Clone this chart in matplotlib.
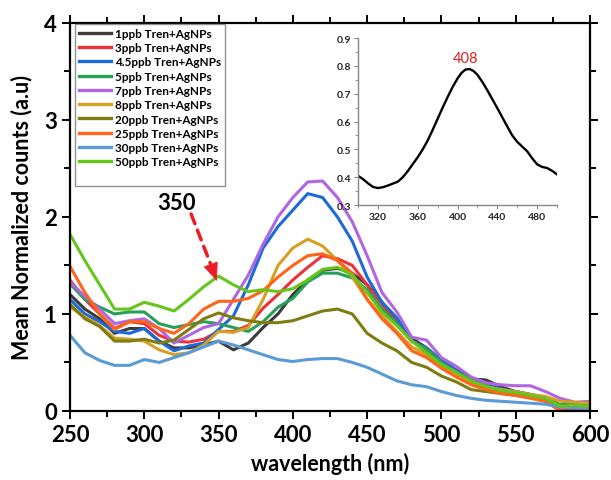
import matplotlib
matplotlib.use("Agg")
import matplotlib.pyplot as plt
from matplotlib.ticker import MultipleLocator
from matplotlib.lines import Line2D

plt.rcParams['font.family'] = ['Lato', 'DejaVu Sans']

wavelength = list(range(250, 601, 10))

labels = ["1ppb Tren+AgNPs", "3ppb Tren+AgNPs", "4.5ppb Tren+AgNPs", "5ppb Tren+AgNPs",
          "7ppb Tren+AgNPs", "8ppb Tren+AgNPs", "20ppb Tren+AgNPs", "25ppb Tren+AgNPs",
          "30ppb Tren+AgNPs", "50ppb Tren+AgNPs"]

colors = ["#3c3c3c", "#ec3238", "#1c6ad8", "#27a05a", "#b066e0", "#d6a024",
          "#7d7d12", "#ff6418", "#5b9bd5", "#66c51a"]

ppb1 = [1.2, 1.05, 0.95, 0.8, 0.85, 0.85, 0.72, 0.65, 0.65, 0.68, 0.72, 0.63, 0.70, 0.86, 1.0, 1.2,
        1.35, 1.45, 1.47, 1.42, 1.3, 1.12, 0.95, 0.75, 0.65, 0.52, 0.42, 0.33, 0.32, 0.25, 0.2,
        0.17, 0.14, 0.06, 0.06, 0.04]
ppb3 = [1.35, 1.15, 1.0, 0.85, 0.92, 0.9, 0.78, 0.72, 0.71, 0.74, 0.82, 0.82, 0.88, 1.06, 1.2, 1.35,
        1.48, 1.6, 1.57, 1.5, 1.3, 1.1, 0.9, 0.72, 0.62, 0.48, 0.38, 0.29, 0.24, 0.2, 0.18,
        0.14, 0.1, 0.01, 0.02, 0.03]
ppb4_5 = [1.15, 1.0, 0.92, 0.82, 0.8, 0.85, 0.72, 0.62, 0.67, 0.7, 0.84, 0.98, 1.3, 1.68, 1.9, 2.07,
          2.24, 2.2, 2.0, 1.75, 1.38, 1.12, 0.96, 0.72, 0.65, 0.52, 0.42, 0.32, 0.27, 0.23, 0.2,
          0.17, 0.13, 0.06, 0.08, 0.06]
ppb5 = [1.31, 1.15, 1.07, 1.0, 1.02, 1.02, 0.9, 0.86, 0.89, 0.92, 0.9, 0.86, 0.82, 0.92, 1.07, 1.16,
        1.33, 1.42, 1.42, 1.37, 1.25, 1.05, 0.9, 0.72, 0.64, 0.5, 0.4, 0.32, 0.26, 0.21, 0.19,
        0.16, 0.14, 0.06, 0.07, 0.05]
ppb7 = [1.33, 1.18, 1.05, 0.9, 0.93, 0.95, 0.85, 0.7, 0.78, 0.86, 0.9, 1.15, 1.4, 1.72, 2.0, 2.2,
        2.36, 2.37, 2.2, 1.95, 1.6, 1.22, 1.02, 0.76, 0.73, 0.55, 0.46, 0.35, 0.29, 0.27, 0.26,
        0.26, 0.2, 0.13, 0.09, 0.1]
ppb8 = [1.07, 0.97, 0.88, 0.75, 0.74, 0.72, 0.63, 0.58, 0.6, 0.68, 0.82, 0.81, 0.86, 1.15, 1.5, 1.68,
        1.77, 1.7, 1.55, 1.38, 1.15, 0.98, 0.82, 0.66, 0.58, 0.47, 0.38, 0.3, 0.25, 0.22, 0.2,
        0.17, 0.15, 0.1, 0.09, 0.08]
ppb20 = [1.1, 0.95, 0.87, 0.72, 0.72, 0.74, 0.7, 0.73, 0.84, 0.95, 1.01, 0.96, 0.93, 0.91, 0.91, 0.93,
         0.98, 1.03, 1.05, 1.0, 0.8, 0.7, 0.62, 0.5, 0.45, 0.36, 0.3, 0.22, 0.2, 0.18, 0.16,
         0.14, 0.12, 0.05, 0.06, 0.05]
ppb25 = [1.49, 1.22, 1.0, 0.84, 0.92, 0.92, 0.85, 0.8, 0.9, 1.05, 1.13, 1.13, 1.16, 1.24, 1.38, 1.5,
         1.6, 1.62, 1.55, 1.42, 1.15, 0.95, 0.8, 0.62, 0.55, 0.44, 0.35, 0.27, 0.22, 0.18, 0.16,
         0.13, 0.1, 0.0, 0.0, 0.02]
ppb30 = [0.78, 0.6, 0.52, 0.47, 0.47, 0.53, 0.5, 0.55, 0.6, 0.66, 0.72, 0.68, 0.63, 0.58, 0.53, 0.51,
         0.53, 0.54, 0.54, 0.5, 0.45, 0.38, 0.31, 0.27, 0.25, 0.2, 0.16, 0.13, 0.11, 0.1, 0.09,
         0.08, 0.07, 0.04, 0.03, 0.03]
ppb50 = [1.82, 1.55, 1.3, 1.05, 1.05, 1.12, 1.08, 1.03, 1.15, 1.28, 1.39, 1.3, 1.23, 1.25, 1.23, 1.26,
         1.35, 1.46, 1.48, 1.4, 1.22, 1.02, 0.88, 0.72, 0.6, 0.48, 0.4, 0.31, 0.25, 0.21, 0.19,
         0.16, 0.13, 0.05, 0.06, 0.05]

series = [ppb1, ppb3, ppb4_5, ppb5, ppb7, ppb8, ppb20, ppb25, ppb30, ppb50]

inset_wl = [300, 305, 310, 315, 320, 325, 330, 335, 340, 345, 350, 355, 360, 365, 370, 375, 380,
            385, 390, 395, 400, 404, 408, 412, 416, 420, 425, 430, 435, 440, 445, 450, 455, 460,
            465, 470, 475, 480, 485, 490, 495, 500]
inset_val = [0.405, 0.393, 0.378, 0.365, 0.361, 0.364, 0.37, 0.377, 0.384, 0.4, 0.422, 0.447,
             0.472, 0.5, 0.532, 0.57, 0.61, 0.65, 0.688, 0.724, 0.755, 0.775, 0.787, 0.789, 0.782,
             0.768, 0.742, 0.712, 0.68, 0.648, 0.615, 0.582, 0.55, 0.527, 0.51, 0.493, 0.468,
             0.446, 0.437, 0.433, 0.423, 0.41]

fig = plt.figure(figsize=(6.11, 4.81), dpi=100)
ax = fig.add_axes([0.1146, 0.1435, 0.851, 0.807])

for vals, lab, c in zip(series, labels, colors):
    ax.plot(wavelength, vals, color=c, lw=2.2, label=lab)

ax.set_xlim(250, 600)
ax.set_ylim(0, 4)
ax.xaxis.set_major_locator(MultipleLocator(50))
ax.xaxis.set_minor_locator(MultipleLocator(25))
ax.yaxis.set_major_locator(MultipleLocator(1))
ax.yaxis.set_minor_locator(MultipleLocator(0.5))
for s in ax.spines.values():
    s.set_linewidth(1.6)
ax.tick_params(which='both', direction='out', width=1.4, top=True, right=True)
ax.tick_params(which='major', length=6, labelsize=16)
ax.tick_params(which='minor', length=4)
for lbl in ax.get_xticklabels() + ax.get_yticklabels():
    lbl.set_fontweight('bold')
ax.set_xlabel("wavelength (nm)", fontsize=15.5, fontweight='bold', labelpad=5)
ax.set_ylabel("Mean Normalized counts (a.u)", fontsize=15.5, fontweight='bold', labelpad=8)

handles, labs = ax.get_legend_handles_labels()
handles.append(Line2D([], [], color='none'))
labs.append(' ')
leg = ax.legend(handles, labs, loc='upper left', bbox_to_anchor=(0.01, 0.998), borderaxespad=0,
                prop={'weight': 'bold', 'size': 8.5}, handlelength=2.7,
                handletextpad=0.3, labelspacing=0.28, fancybox=False, borderpad=0.35,
                frameon=True)
leg.get_frame().set_edgecolor('#777777')
leg.get_frame().set_linewidth(1.0)
for line in leg.get_lines():
    line.set_linewidth(2.4)

ax.text(322, 2.15, "350", fontsize=16, fontweight='bold', ha='center', va='center')
ax.annotate('', xy=(345.5, 1.48), xytext=(331.5, 2.03),
            arrowprops=dict(arrowstyle='-', ls=(0, (3, 2)), lw=2.5, color='#ee1c24',
                            shrinkA=0, shrinkB=0))
ax.annotate('', xy=(348.8, 1.34), xytext=(344.5, 1.52),
            arrowprops=dict(arrowstyle='-|>,head_length=1.2,head_width=0.5', lw=0.5,
                            color='#ee1c24', shrinkA=0, shrinkB=0))

ins = fig.add_axes([0.586, 0.5717, 0.3257, 0.347])
ins.plot(inset_wl, inset_val, color='black', lw=1.7)
ins.set_xlim(300, 500)
ins.set_ylim(0.3, 0.9)
ins.spines['top'].set_visible(False)
ins.spines['right'].set_visible(False)
for k in ['left', 'bottom']:
    ins.spines[k].set_color('#888888')
    ins.spines[k].set_linewidth(1.0)
ins.set_xticks([320, 360, 400, 440, 480])
ins.xaxis.set_minor_locator(MultipleLocator(20))
ins.yaxis.set_major_locator(MultipleLocator(0.1))
ins.yaxis.set_minor_locator(MultipleLocator(0.05))
ins.tick_params(which='both', direction='out', color='#888888', labelsize=7.5, pad=2)
ins.tick_params(which='major', length=3)
ins.tick_params(which='minor', length=2)
for lbl in ins.get_xticklabels() + ins.get_yticklabels():
    lbl.set_fontweight('bold')
    lbl.set_color('#222222')
ins.patch.set_alpha(0)
ins.text(408, 0.805, "408", color='#e02020', fontsize=10.5, ha='center', va='bottom')

fig.savefig("out.png", dpi=100)
